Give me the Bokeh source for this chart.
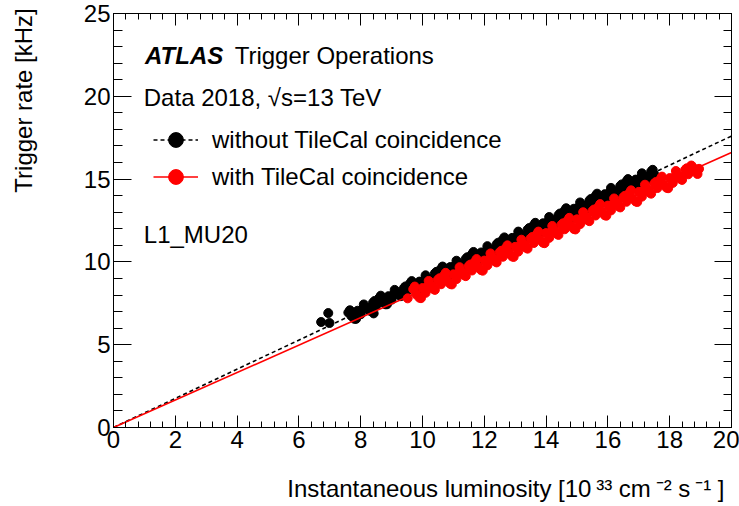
from bokeh.plotting import figure
from bokeh.models import (Range1d, LinearAxis, SingleIntervalTicker, Label,
                          Legend, LegendItem, CustomJSTickFormatter)
from bokeh.embed import file_html
from bokeh.resources import INLINE

# ---------------- data ----------------
# L1_MU20 trigger rate [kHz] vs instantaneous luminosity [1e33 cm-2 s-1]
lumi_without = [6.72, 6.99, 6.95, 8.42,
                7.6, 7.7, 7.8, 7.9, 8.0, 8.1, 8.2, 8.3, 8.4, 8.5,
                8.6, 8.7, 8.8, 8.9, 9.0, 9.1, 9.2, 9.3, 9.4, 9.5,
                9.6, 9.7, 9.8, 9.9, 10.0, 10.1, 10.2, 10.3, 10.4, 10.5,
                10.6, 10.7, 10.8, 10.9, 11.0, 11.1, 11.2, 11.3, 11.4, 11.5,
                11.6, 11.7, 11.8, 11.9, 12.0, 12.1, 12.2, 12.3, 12.4, 12.5,
                12.6, 12.7, 12.8, 12.9, 13.0, 13.1, 13.2, 13.3, 13.4, 13.5,
                13.6, 13.7, 13.8, 13.9, 14.0, 14.1, 14.2, 14.3, 14.4, 14.5,
                14.6, 14.7, 14.8, 14.9, 15.0, 15.1, 15.2, 15.3, 15.4, 15.5,
                15.6, 15.7, 15.8, 15.9, 16.0, 16.1, 16.2, 16.3, 16.4, 16.5,
                16.6, 16.7, 16.8, 16.9, 17.0, 17.1, 17.2, 17.3, 17.4, 17.5,
                7.65, 7.85, 8.05, 8.25, 8.45, 8.65, 8.85, 9.05, 9.25, 9.45,
                9.65, 9.85, 10.05, 10.25, 10.45, 10.65, 10.85, 11.05, 11.25, 11.45,
                11.65, 11.85, 12.05, 12.25, 12.45, 12.65, 12.85, 13.05, 13.25, 13.45,
                13.65, 13.85, 14.05, 14.25, 14.45, 14.65, 14.85, 15.05, 15.25, 15.45,
                15.65, 15.85, 16.05, 16.25, 16.45, 16.65, 16.85, 17.05, 17.25, 17.45]
rate_without = [6.37, 6.31, 6.91, 6.89,
                6.94, 6.73, 6.56, 7.05, 6.84, 7.43, 7.22, 7.05, 7.54, 7.36,
                7.82, 7.61, 7.44, 7.93, 7.72, 8.31, 8.10, 7.93, 8.42, 8.24,
                8.70, 8.49, 8.32, 8.81, 8.60, 9.19, 8.98, 8.81, 9.30, 9.12,
                9.58, 9.37, 9.20, 9.69, 9.48, 10.07, 9.86, 9.69, 10.18, 10.00,
                10.46, 10.25, 10.08, 10.57, 10.36, 10.95, 10.74, 10.57, 11.06, 10.88,
                11.34, 11.13, 10.96, 11.45, 11.24, 11.83, 11.62, 11.45, 11.94, 11.76,
                12.22, 12.01, 11.84, 12.33, 12.12, 12.71, 12.50, 12.33, 12.82, 12.64,
                13.10, 12.89, 12.72, 13.21, 13.00, 13.59, 13.38, 13.21, 13.70, 13.52,
                13.98, 13.77, 13.60, 14.09, 13.88, 14.47, 14.26, 14.09, 14.58, 14.40,
                14.86, 14.65, 14.48, 14.97, 14.76, 15.35, 15.14, 14.97, 15.46, 15.28,
                7.08, 6.56, 7.13, 7.11, 7.64, 7.96, 7.44, 8.01, 7.99, 8.52,
                8.84, 8.32, 8.89, 8.87, 9.40, 9.72, 9.20, 9.77, 9.75, 10.28,
                10.60, 10.08, 10.65, 10.63, 11.16, 11.48, 10.96, 11.53, 11.51, 12.04,
                12.36, 11.84, 12.41, 12.39, 12.92, 13.24, 12.72, 13.29, 13.27, 13.80,
                14.12, 13.60, 14.17, 14.15, 14.68, 15.00, 14.48, 15.05, 15.03, 15.56]

lumi_with = [9.52,
             9.7, 9.8, 9.9, 10.0, 10.1, 10.2, 10.3, 10.4, 10.5, 10.6,
             10.7, 10.8, 10.9, 11.0, 11.1, 11.2, 11.3, 11.4, 11.5, 11.6,
             11.7, 11.8, 11.9, 12.0, 12.1, 12.2, 12.3, 12.4, 12.5, 12.6,
             12.7, 12.8, 12.9, 13.0, 13.1, 13.2, 13.3, 13.4, 13.5, 13.6,
             13.7, 13.8, 13.9, 14.0, 14.1, 14.2, 14.3, 14.4, 14.5, 14.6,
             14.7, 14.8, 14.9, 15.0, 15.1, 15.2, 15.3, 15.4, 15.5, 15.6,
             15.7, 15.8, 15.9, 16.0, 16.1, 16.2, 16.3, 16.4, 16.5, 16.6,
             16.7, 16.8, 16.9, 17.0, 17.1, 17.2, 17.3, 17.4, 17.5, 17.6,
             17.7, 17.8, 17.9, 18.0, 18.1, 18.2, 18.3, 18.4, 18.5, 18.6,
             18.7, 18.8, 18.9, 18.95,
             9.75, 9.95, 10.15, 10.35, 10.55, 10.75, 10.95, 11.15, 11.35, 11.55,
             11.75, 11.95, 12.15, 12.35, 12.55, 12.75, 12.95, 13.15, 13.35, 13.55,
             13.75, 13.95, 14.15, 14.35, 14.55, 14.75, 14.95, 15.15, 15.35, 15.55,
             15.75, 15.95, 16.15, 16.35, 16.55, 16.75, 16.95, 17.15, 17.35, 17.55,
             17.75, 17.95, 18.15, 18.35, 18.55, 18.75]
rate_with = [7.80,
             8.35, 8.03, 7.84, 8.42, 8.13, 8.85, 8.55, 8.31, 8.92, 8.65,
             9.18, 8.86, 8.67, 9.25, 8.96, 9.68, 9.38, 9.14, 9.75, 9.48,
             10.01, 9.69, 9.50, 10.08, 9.79, 10.51, 10.21, 9.97, 10.58, 10.31,
             10.84, 10.52, 10.33, 10.91, 10.62, 11.34, 11.04, 10.80, 11.41, 11.14,
             11.67, 11.35, 11.16, 11.74, 11.45, 12.17, 11.87, 11.63, 12.24, 11.97,
             12.50, 12.18, 11.99, 12.57, 12.28, 13.00, 12.70, 12.46, 13.07, 12.80,
             13.33, 13.01, 12.82, 13.40, 13.11, 13.83, 13.53, 13.29, 13.90, 13.63,
             14.16, 13.84, 13.65, 14.23, 13.94, 14.66, 14.36, 14.12, 14.73, 14.46,
             14.99, 14.67, 14.48, 15.06, 14.77, 15.49, 15.19, 14.95, 15.56, 15.29,
             15.82, 15.50, 15.31, 15.62,
             8.51, 7.81, 8.47, 8.37, 9.01, 9.34, 8.64, 9.30, 9.20, 9.84,
             10.17, 9.47, 10.13, 10.03, 10.67, 11.00, 10.30, 10.96, 10.86, 11.50,
             11.83, 11.13, 11.79, 11.69, 12.33, 12.66, 11.96, 12.62, 12.52, 13.16,
             13.49, 12.79, 13.45, 13.35, 13.99, 14.32, 13.62, 14.28, 14.18, 14.82,
             15.15, 14.45, 15.11, 15.01, 15.65, 15.70]

# linear fits through the origin
fit_lumi = [0.0, 20.0]
fit_rate_without = [0.0, 17.6]
fit_rate_with = [0.0, 16.6]

x_ticks_interval = 2
y_ticks_interval = 5

x_title = "Instantaneous luminosity [10\u2009\u00b3\u00b3 cm\u2009\u207b\u00b2 s\u2009\u207b\u00b9 ]"
y_title = "Trigger rate [kHz]"

FONT = "Liberation Sans"
NBSP = "\u00a0"

p = figure(width=739, height=506, output_backend="svg", toolbar_location=None,
           x_range=Range1d(0, 20), y_range=Range1d(0, 25),
           min_border_left=113, min_border_right=8, min_border_top=13,
           min_border_bottom=79, background_fill_color="white",
           border_fill_color="white")
p.grid.visible = False
p.outline_line_color = "black"
p.outline_line_width = 1

# axes: ROOT style, ticks inside
p.xaxis.ticker = SingleIntervalTicker(interval=x_ticks_interval, num_minor_ticks=5)
p.yaxis.ticker = SingleIntervalTicker(interval=y_ticks_interval, num_minor_ticks=5)
for ax in list(p.xaxis) + list(p.yaxis):
    ax.major_tick_out = 0
    ax.minor_tick_out = 0
    ax.major_label_text_font = FONT
    ax.major_label_text_font_size = "24px"
    ax.major_label_text_color = "black"
    ax.major_label_standoff = 3
    ax.axis_line_color = "black"
    ax.major_tick_line_color = "black"
    ax.minor_tick_line_color = "black"
    ax.axis_label_text_font = FONT
    ax.axis_label_text_font_style = "normal"
    ax.axis_label_text_color = "black"
# titles pushed toward the axis end (ROOT style) with leading non-breaking spaces
for ax in p.xaxis:
    ax.major_tick_in = 12
    ax.minor_tick_in = 6
    ax.axis_label = NBSP * 25 + x_title
    ax.axis_label_text_font_size = "24px"
    ax.axis_label_standoff = 24
for ax in p.yaxis:
    ax.major_tick_in = 18
    ax.minor_tick_in = 9
    ax.axis_label = NBSP * 36 + y_title
    ax.axis_label_text_font_size = "24px"
    ax.axis_label_standoff = 44

blank = CustomJSTickFormatter(code="return ''")
top_axis = LinearAxis(ticker=SingleIntervalTicker(interval=x_ticks_interval, num_minor_ticks=5),
                      major_tick_in=12, major_tick_out=0, minor_tick_in=6, minor_tick_out=0,
                      formatter=blank, major_label_standoff=0)
right_axis = LinearAxis(ticker=SingleIntervalTicker(interval=y_ticks_interval, num_minor_ticks=5),
                        major_tick_in=17, major_tick_out=0, minor_tick_in=8, minor_tick_out=0,
                        formatter=blank, major_label_standoff=0)
p.add_layout(top_axis, "above")
p.add_layout(right_axis, "right")

# fits and data
l_without = p.line(fit_lumi, fit_rate_without, line_color="black", line_width=1.6,
                   line_dash="4 3")
s_without = p.scatter(lumi_without, rate_without, size=9, fill_color="black",
                      line_color="black")
l_with = p.line(fit_lumi, fit_rate_with, line_color="red", line_width=1.6)
s_with = p.scatter(lumi_with, rate_with, size=9, fill_color="red", line_color="red")

legend = Legend(items=[
    LegendItem(label="without TileCal coincidence", renderers=[l_without, s_without]),
    LegendItem(label="with TileCal coincidence", renderers=[l_with, s_with]),
], location=(40, 232), glyph_width=45, glyph_height=37, label_height=37,
    label_standoff=14, spacing=0, padding=0, margin=0,
    border_line_color=None, background_fill_alpha=0,
    label_text_font=FONT, label_text_font_size="24px",
    label_text_baseline="middle", label_text_color="black")
p.add_layout(legend)

def lab(x, y, text, size="24px", style="normal", align="left"):
    p.add_layout(Label(x=x, y=y, text=text, text_font=FONT, text_font_size=size,
                       text_font_style=style, text_align=align,
                       text_baseline="alphabetic", text_color="black"))

lab(1.02, 22.45, "ATLAS", style="bold italic")
lab(3.92, 22.45, "Trigger Operations")
lab(0.98, 19.92, "Data 2018, \u221as=13 TeV")
lab(0.98, 11.65, "L1_MU20")

open("out.html", "w").write(file_html(p, INLINE))
